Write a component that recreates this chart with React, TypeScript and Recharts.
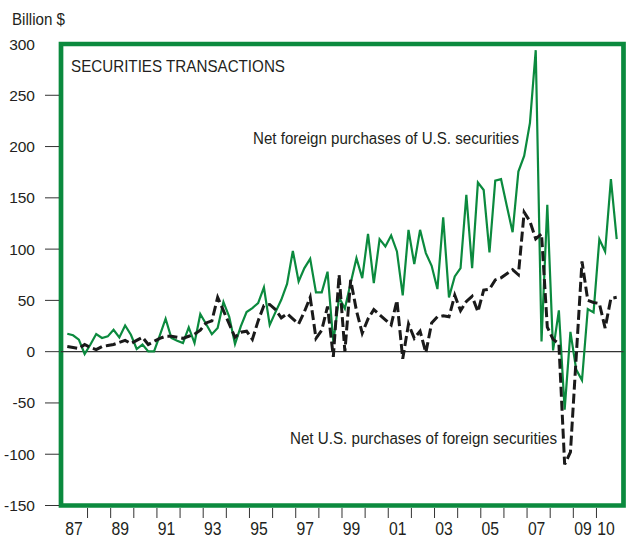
import React from "react";
import {
  LineChart,
  Line,
  XAxis,
  YAxis,
  ReferenceLine,
  ReferenceArea,
} from "recharts";

// quarterly, 1987Q1 .. 2010Q4, billions of dollars
const START_YEAR = 1987;

const foreignPurchasesOfUS = [
  17.5, 16, 11.7, -2.3, 7, 17.2, 13.3, 14.9, 21.4, 13.9, 25.6, 16.5,
  2.6, 6.9, 0.3, 0.3, 16, 32.1, 13.3, 10.7, 8.4, 23.7, 8.4, 36.7,
  27, 17, 23, 48.4, 34.1, 7.5, 24.7, 38.6, 42.5, 47.4, 62.6, 26,
  38.6, 50.6, 66, 98.3, 68.5, 81.5, 90.5, 57.8, 57.8, 78, 9.4, 52.9,
  42, 66.9, 91.2, 71.7, 114.9, 66.9, 109.7, 102.6, 113.3, 97.7, 54.8, 118.8,
  85.3, 118.8, 96.1, 83.7, 61, 131.1, 52.9, 73.4, 81.5, 152.9, 81.5, 164.9,
  157.6, 96.7, 166.8, 168.2, 142, 116.5, 175.6, 190.8, 223.1, 294, 10, 143.1,
  1.3, 40.2, -56.5, 19.3, -17.5, -27.9, 41.6, 38.3, 109.7, 97.7, 168.2, 109.7,
];

const usPurchasesOfForeign = [
  5, 4, 3, 7, 4, 2, 5, 6, 7, 9, 11, 8,
  11, 14, 7, 10, 13, 15, 15, 14, 13, 15, 17, 21,
  28, 30, 53, 40, 27, 14, 19, 20, 12, 30, 45, 46,
  41, 33, 37, 32, 27, 39, 53, 13, 21, 44, -5, 75,
  0, 70, 40, 18, 32, 41, 36, 31, 26, 50, -7, 27,
  13, 20, -1, 28, 34, 35, 34, 55, 40, 49, 54, 39,
  60, 61, 70, 72, 76, 80, 75, 136, 127, 110, 115, 24,
  12, 8, -110, -98, -5, 88, 50, 48, 47, 23, 52, 53,
];

const yTicks = [-150, -100, -50, 0, 50, 100, 150, 200, 250, 300];
const years = [
  1987, 1988, 1989, 1990, 1991, 1992, 1993, 1994, 1995, 1996, 1997, 1998,
  1999, 2000, 2001, 2002, 2003, 2004, 2005, 2006, 2007, 2008, 2009, 2010,
];
const yearLabels: Record<number, string> = {
  1987: "87", 1989: "89", 1991: "91", 1993: "93", 1995: "95", 1997: "97",
  1999: "99", 2001: "01", 2003: "03", 2005: "05", 2007: "07", 2009: "09",
  2010: "10",
};

const data = foreignPurchasesOfUS.map((v, i) => ({
  t: START_YEAR + (i + 0.5) / 4,
  foreign: v,
  us: usPurchasesOfForeign[i],
}));

const W = 626;
const H = 540;
const PLOT_LEFT = 61;
const PLOT_RIGHT = 623.5;
const PLOT_TOP = 44;
const PLOT_BOTTOM = 505.5;
const X_MIN = 1986.853;
const X_MAX = 2011.169;
const YEAR_PX = (PLOT_RIGHT - PLOT_LEFT) / (X_MAX - X_MIN);

const GREEN = "#0b8a3e";
const INK = "#231f20";
const FONT = "'Liberation Sans', Arial, Helvetica, sans-serif";

const XTick = (props: any) => {
  const { x, payload } = props;
  const year = Math.floor(payload.value);
  const lineX = x - YEAR_PX / 2;
  const label = yearLabels[year];
  return (
    <g>
      {year > START_YEAR && (
        <line x1={lineX} x2={lineX} y1={508} y2={518} stroke="#333" strokeWidth={1} />
      )}
      {label && (
        <text
          x={x - 2}
          y={535}
          textAnchor="middle"
          fontSize={19}
          fontFamily={FONT}
          fill={INK}
          textLength={17.5}
          lengthAdjust="spacingAndGlyphs"
        >
          {label}
        </text>
      )}
    </g>
  );
};

const YTick = (props: any) => {
  const { y, payload } = props;
  return (
    <g>
      {payload.value !== 300 && (
        <line x1={45} x2={59} y1={y} y2={y} stroke="#333" strokeWidth={1} />
      )}
      <text x={35} y={y} dy={5.5} textAnchor="end" fontSize={15.5} fontFamily={FONT} fill={INK}>
        {payload.value}
      </text>
    </g>
  );
};

export default function App() {
  return (
    <div style={{ position: "absolute", left: 0, top: 0, width: W, height: H, background: "#fff" }}>
      <LineChart
        width={W}
        height={H}
        data={data}
        margin={{ top: PLOT_TOP, right: W - PLOT_RIGHT, left: 0, bottom: 0 }}
      >
        <XAxis
          type="number"
          dataKey="t"
          domain={[X_MIN, X_MAX]}
          ticks={years.map((y) => y + 0.5)}
          interval={0}
          tickLine={false}
          axisLine={false}
          tick={<XTick />}
          height={H - PLOT_BOTTOM}
          allowDataOverflow
        />
        <YAxis
          type="number"
          domain={[-150, 300]}
          ticks={yTicks}
          interval={0}
          tickLine={false}
          axisLine={false}
          tick={<YTick />}
          width={PLOT_LEFT}
          allowDataOverflow
        />
        <ReferenceLine y={0} stroke="#333" strokeWidth={1.3} />
        <Line
          type="linear"
          dataKey="foreign"
          stroke={GREEN}
          strokeWidth={2.2}
          dot={false}
          isAnimationActive={false}
        />
        <Line
          type="linear"
          dataKey="us"
          stroke="#1a1a1a"
          strokeWidth={3}
          strokeDasharray="10 4"
          dot={false}
          isAnimationActive={false}
        />
        <ReferenceArea
          x1={X_MIN}
          x2={X_MAX}
          y1={-150}
          y2={300}
          fill="none"
          fillOpacity={0}
          stroke={GREEN}
          strokeWidth={4.7}
          ifOverflow="visible"
        />
      </LineChart>
      <svg
        width={W}
        height={H}
        style={{ position: "absolute", left: 0, top: 0, pointerEvents: "none" }}
      >
        <text x={12} y={25} fontSize={16} fontFamily={FONT} fill={INK} textLength={53} lengthAdjust="spacingAndGlyphs">
          Billion $
        </text>
        <text x={71} y={72} fontSize={17} fontFamily={FONT} fill={INK} textLength={214} lengthAdjust="spacingAndGlyphs">
          SECURITIES TRANSACTIONS
        </text>
        <text x={253} y={144} fontSize={16} fontFamily={FONT} fill={INK} textLength={266} lengthAdjust="spacingAndGlyphs">
          Net foreign purchases of U.S. securities
        </text>
        <text x={290} y={444} fontSize={16} fontFamily={FONT} fill={INK} textLength={267} lengthAdjust="spacingAndGlyphs">
          Net U.S. purchases of foreign securities
        </text>
      </svg>
    </div>
  );
}
